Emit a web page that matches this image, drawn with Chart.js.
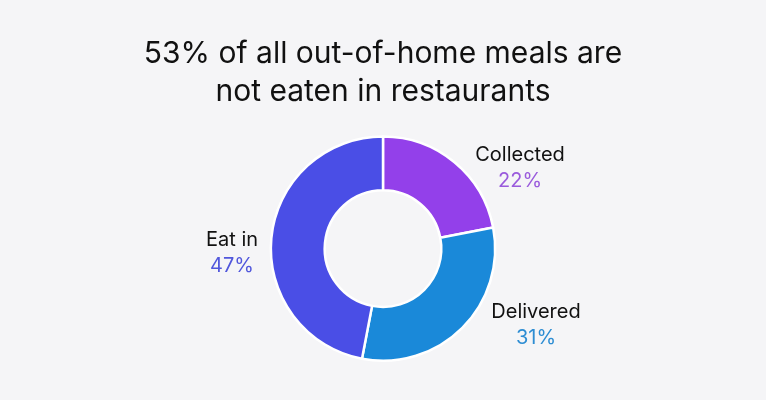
<!DOCTYPE html>
<html lang="en">
<head>
  <meta charset="UTF-8" />
  <title>Out-of-home meals</title>
  <style>
    * { box-sizing: border-box; margin: 0; padding: 0; }
    html, body { width: 766px; height: 400px; background: #f5f5f7; overflow: hidden; }
    #wrap { position: relative; width: 766px; height: 400px; }
  </style>
  <script src="https://cdn.jsdelivr.net/npm/chart.js@4/dist/chart.umd.min.js"></script>
</head>
<body>
  <div id="wrap"><canvas id="mealsChart"></canvas></div>
  <script>
    // data
    const categories = ['Collected', 'Delivered', 'Eat in'];
    const shares = [22, 31, 47];
    const sliceColors = ['#9340ea', '#1a89d9', '#4a4ee6'];
    const labelColors = ['#9a5bdc', '#2d8dd3', '#5157dc'];
    const titleLines = ['53% of all out-of-home meals are', 'not eaten in restaurants'];

    // label offsets from the donut centre (name baseline)
    const labelOffsets = [[137, -88], [153, 69], [-151, -3]];

    const FONT = 'Inter, "Noto Sans", sans-serif';

    const sliceLabels = {
      id: 'sliceLabels',
      afterDatasetsDraw(chart) {
        const ctx = chart.ctx;
        const meta = chart.getDatasetMeta(0);
        ctx.save();
        ctx.textAlign = 'center';
        ctx.textBaseline = 'alphabetic';
        meta.data.forEach((arc, i) => {
          const x = arc.x + labelOffsets[i][0];
          const y = arc.y + labelOffsets[i][1];
          ctx.font = '400 20px ' + FONT;
          ctx.fillStyle = '#111';
          ctx.fillText(categories[i], x, y);
          ctx.fillStyle = labelColors[i];
          ctx.fillText(shares[i] + '%', x, y + 26);
        });
        ctx.restore();
      }
    };

    const chart = new Chart(document.getElementById('mealsChart'), {
      type: 'doughnut',
      data: {
        labels: categories,
        datasets: [{
          data: shares,
          backgroundColor: sliceColors,
          borderColor: '#ffffff',
          borderWidth: 2.5,
          hoverOffset: 0
        }]
      },
      options: {
        responsive: true,
        maintainAspectRatio: false,
        animation: false,
        cutout: '52%',
        layout: { padding: { top: 0, bottom: 38, left: 0, right: 0 } },
        plugins: {
          legend: { display: false },
          tooltip: { enabled: false },
          title: {
            display: true,
            text: titleLines,
            color: '#111',
            font: { family: FONT, size: 30, weight: '400', lineHeight: 1.27 },
            padding: { top: 35, bottom: 24 }
          }
        }
      },
      plugins: [sliceLabels]
    });
  </script>
</body>
</html>
